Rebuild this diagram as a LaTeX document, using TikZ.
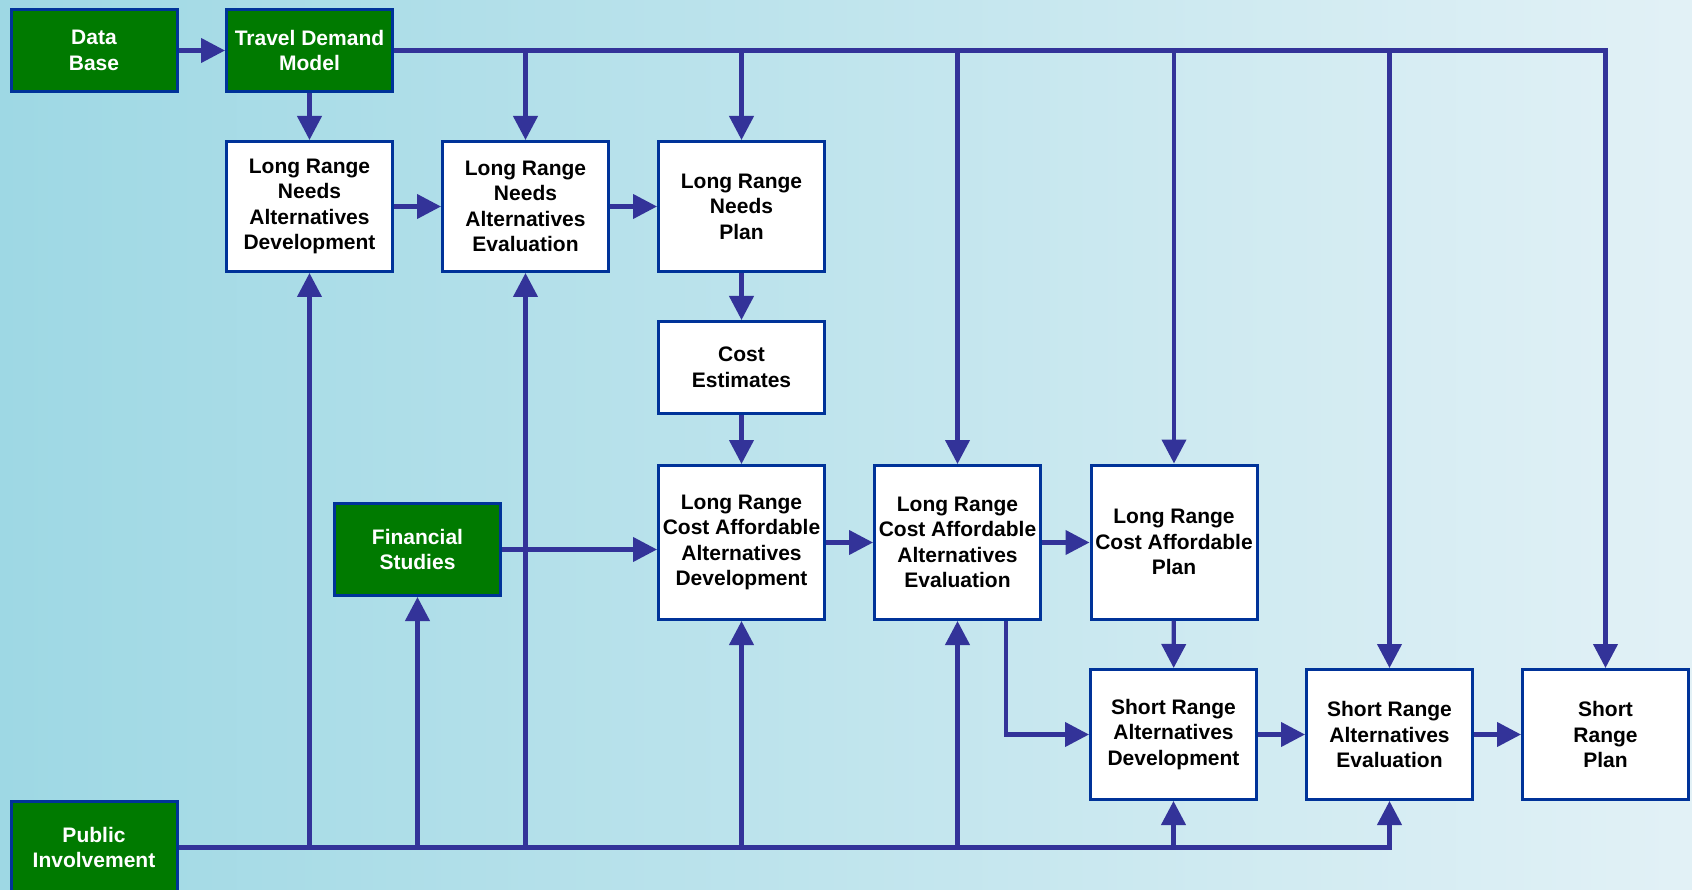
\documentclass[tikz,border=0pt]{standalone}
\usepackage{fontspec}
\setmainfont{Liberation Sans}
\usetikzlibrary{arrows.meta}
\definecolor{bgleft}{RGB}{158,216,228}
\definecolor{bgright}{RGB}{226,241,246}
\definecolor{boxgreen}{RGB}{0,122,0}
\definecolor{boxline}{RGB}{0,51,153}
\definecolor{flow}{RGB}{51,51,153}
\tikzset{
  box/.style={draw=boxline, line width=3pt, fill=white, minimum width=166pt,
    inner sep=0pt, align=center, font=\fontsize{21}{25.5}\selectfont\bfseries},
  greenbox/.style={box, fill=boxgreen, text=white},
  arr/.style={flow, line width=4.2pt, -{Triangle[length=24pt,width=24pt]}}
}
\begin{document}
\begin{tikzpicture}[x=1pt,y=-1pt]
    \useasboundingbox (0,0) rectangle (1692,890);
    \clip (0,0) rectangle (1692,890);
    %BACKGROUND
    \shade[left color=bgleft, right color=bgright] (0,0) rectangle (1692,890);

    %GREEN INPUTS
    \node[greenbox, minimum height=82pt] (db) at (94,50.5) {Data\\Base};
    \node[greenbox, minimum height=82pt] (tdm) at (309.5,50.5) {Travel Demand\\Model};
    \node[greenbox, minimum height=92pt] (fs) at (417.5,549.5) {Financial\\Studies};
    \node[greenbox, minimum height=92pt] (pi) at (94,847.5) {Public\\Involvement};

    %LONG RANGE NEEDS
    \node[box, minimum height=130pt] (lrnad) at (309.5,206.5) {Long Range\\Needs\\Alternatives\\Development};
    \node[box, minimum height=130pt] (lrnae) at (525.5,206.5) {Long Range\\Needs\\Alternatives\\Evaluation};
    \node[box, minimum height=130pt] (lrnp) at (741.5,206.5) {Long Range\\Needs\\Plan};
    \node[box, minimum height=92pt] (ce) at (741.5,367.5) {Cost\\Estimates};

    %LONG RANGE COST AFFORDABLE
    \node[box, minimum height=154pt] (lrcad) at (741.5,542.5) {Long Range\\Cost Affordable\\Alternatives\\Development};
    \node[box, minimum height=154pt] (lrcae) at (957.5,542.5) {Long Range\\Cost Affordable\\Alternatives\\Evaluation};
    \node[box, minimum height=154pt] (lrcap) at (1174,542) {Long Range\\Cost Affordable\\Plan};

    %SHORT RANGE
    \node[box, minimum height=130pt] (srad) at (1173.5,734.5) {Short Range\\Alternatives\\Development};
    \node[box, minimum height=130pt] (srae) at (1389.5,734.5) {Short Range\\Alternatives\\Evaluation};
    \node[box, minimum height=130pt] (srp) at (1605.5,734.5) {Short\\Range\\Plan};

    %FLOW
    \draw[arr] (db) -- (tdm);
    \draw[arr] (tdm) -- (lrnad);
    \draw[arr] (lrnad) -- (lrnae);
    \draw[arr] (lrnae) -- (lrnp);
    \draw[arr] (lrnp) -- (ce);
    \draw[arr] (ce) -- (lrcad);
    \draw[arr] (fs) -- (fs -| lrcad.west);
    \draw[arr] (lrcad) -- (lrcae);
    \draw[arr] (lrcae) -- (lrcae -| lrcap.west);
    \draw[arr] (lrcap) -- (srad);
    \draw[arr] ([xshift=48.5pt]lrcae.south) |- (srad.west);
    \draw[arr] (srad) -- (srae);
    \draw[arr] (srae) -- (srp);

    %MODEL LINE ON TOP
    \draw[arr] (tdm.east) -| (srp.north);
    \foreach \n in {lrnae,lrnp,lrcae,lrcap,srae}
        \draw[arr] (\n.north |- tdm.east) -- (\n.north);

    %PUBLIC INVOLVEMENT LINE AT BOTTOM
    \draw[arr] (pi.east) -| (srae.south);
    \foreach \n in {lrnad,fs,lrnae,lrcad,lrcae,srad}
        \draw[arr] (\n.south |- pi.east) -- (\n.south);
\end{tikzpicture}
\end{document}
